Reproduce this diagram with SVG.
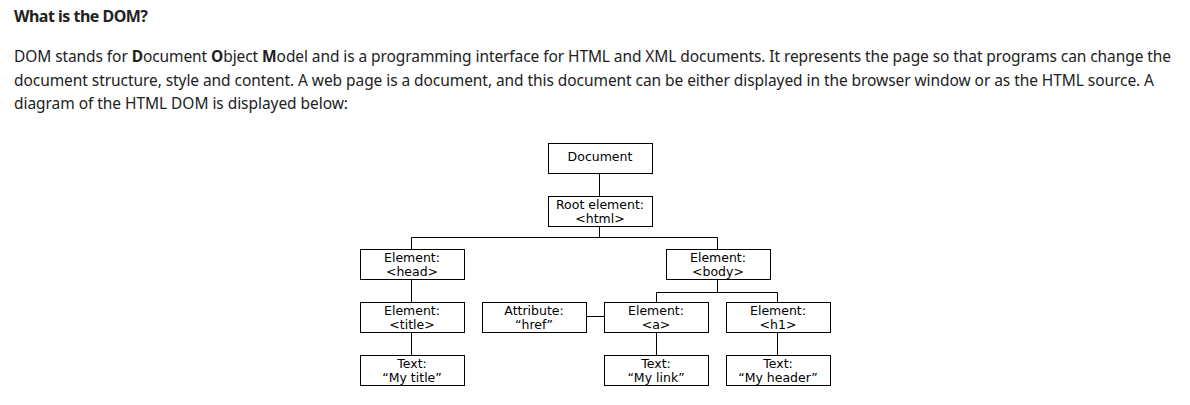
<svg xmlns="http://www.w3.org/2000/svg" width="1190" height="405" viewBox="0 0 1190 405">
<style>
.bg{fill:#ffffff}
.h{font-family:"Noto Sans","Open Sans","DejaVu Sans",sans-serif;font-size:16px;font-weight:bold;fill:#222}
.p{font-family:"Noto Sans","Open Sans","DejaVu Sans",sans-serif;font-size:15.5px;fill:#222}
.p tspan.b{font-weight:bold}
.box{fill:#ffffff;stroke:#000;stroke-width:1}
.t{font-family:"DejaVu Sans","Verdana",sans-serif;font-size:12.5px;fill:#000;text-anchor:middle}
.c{fill:none;stroke:#000;stroke-width:1}
</style>
<rect class="bg" x="0" y="0" width="1190" height="405"/>
<text class="h" x="14" y="21.5" textLength="134" lengthAdjust="spacing">What is the DOM?</text>
<text class="p" x="14" y="62" textLength="1157" lengthAdjust="spacing">DOM stands for <tspan class="b">D</tspan>ocument <tspan class="b">O</tspan>bject <tspan class="b">M</tspan>odel and is a programming interface for HTML and XML documents. It represents the page so that programs can change the</text>
<text class="p" x="14" y="85.5" textLength="1140" lengthAdjust="spacing">document structure, style and content. A web page is a document, and this document can be either displayed in the browser window or as the HTML source. A</text>
<text class="p" x="14" y="109" textLength="334" lengthAdjust="spacing">diagram of the HTML DOM is displayed below:</text>

<g id="connectors">
<path class="c" d="M599.5 173.5 V196.5"/>
<path class="c" d="M599.5 226.5 V237.5 M411.5 237.5 H717.5 M411.5 237.5 V249.5 M717.5 237.5 V249.5"/>
<path class="c" d="M411.5 279.5 V302.5"/>
<path class="c" d="M411.5 332.5 V355.5"/>
<path class="c" d="M717.5 279.5 V292.5 M656.5 292.5 H777.5 M656.5 292.5 V302.5 M777.5 292.5 V302.5"/>
<path class="c" d="M586.5 316.5 H604.5"/>
<path class="c" d="M656.5 332.5 V355.5"/>
<path class="c" d="M777.5 332.5 V355.5"/>
</g>

<g id="document"><rect class="box" x="548.5" y="143.5" width="104" height="30"/><text class="t" x="600" y="161">Document</text></g>
<g id="root"><rect class="box" x="548.5" y="196.5" width="104" height="30"/><text class="t" x="600" y="208.5">Root element:</text><text class="t" x="600" y="222.5">&lt;html&gt;</text></g>
<g id="head"><rect class="box" x="360.5" y="249.5" width="104" height="30"/><text class="t" x="412" y="262">Element:</text><text class="t" x="412" y="276">&lt;head&gt;</text></g>
<g id="body"><rect class="box" x="666.5" y="249.5" width="104" height="30"/><text class="t" x="718" y="262">Element:</text><text class="t" x="718" y="276">&lt;body&gt;</text></g>
<g id="title"><rect class="box" x="360.5" y="302.5" width="104" height="30"/><text class="t" x="412" y="315">Element:</text><text class="t" x="412" y="329">&lt;title&gt;</text></g>
<g id="attribute"><rect class="box" x="482.5" y="302.5" width="104" height="30"/><text class="t" x="534" y="315">Attribute:</text><text class="t" x="534" y="329">“href”</text></g>
<g id="a"><rect class="box" x="604.5" y="302.5" width="104" height="30"/><text class="t" x="656" y="315">Element:</text><text class="t" x="656" y="329">&lt;a&gt;</text></g>
<g id="h1"><rect class="box" x="726.5" y="302.5" width="104" height="30"/><text class="t" x="778" y="315">Element:</text><text class="t" x="778" y="329">&lt;h1&gt;</text></g>
<g id="text-title"><rect class="box" x="360.5" y="355.5" width="104" height="30"/><text class="t" x="412" y="368">Text:</text><text class="t" x="412" y="382">“My title”</text></g>
<g id="text-link"><rect class="box" x="604.5" y="355.5" width="104" height="30"/><text class="t" x="656" y="368">Text:</text><text class="t" x="656" y="382">“My link”</text></g>
<g id="text-header"><rect class="box" x="726.5" y="355.5" width="104" height="30"/><text class="t" x="778" y="368">Text:</text><text class="t" x="778" y="382">“My header”</text></g>
</svg>
